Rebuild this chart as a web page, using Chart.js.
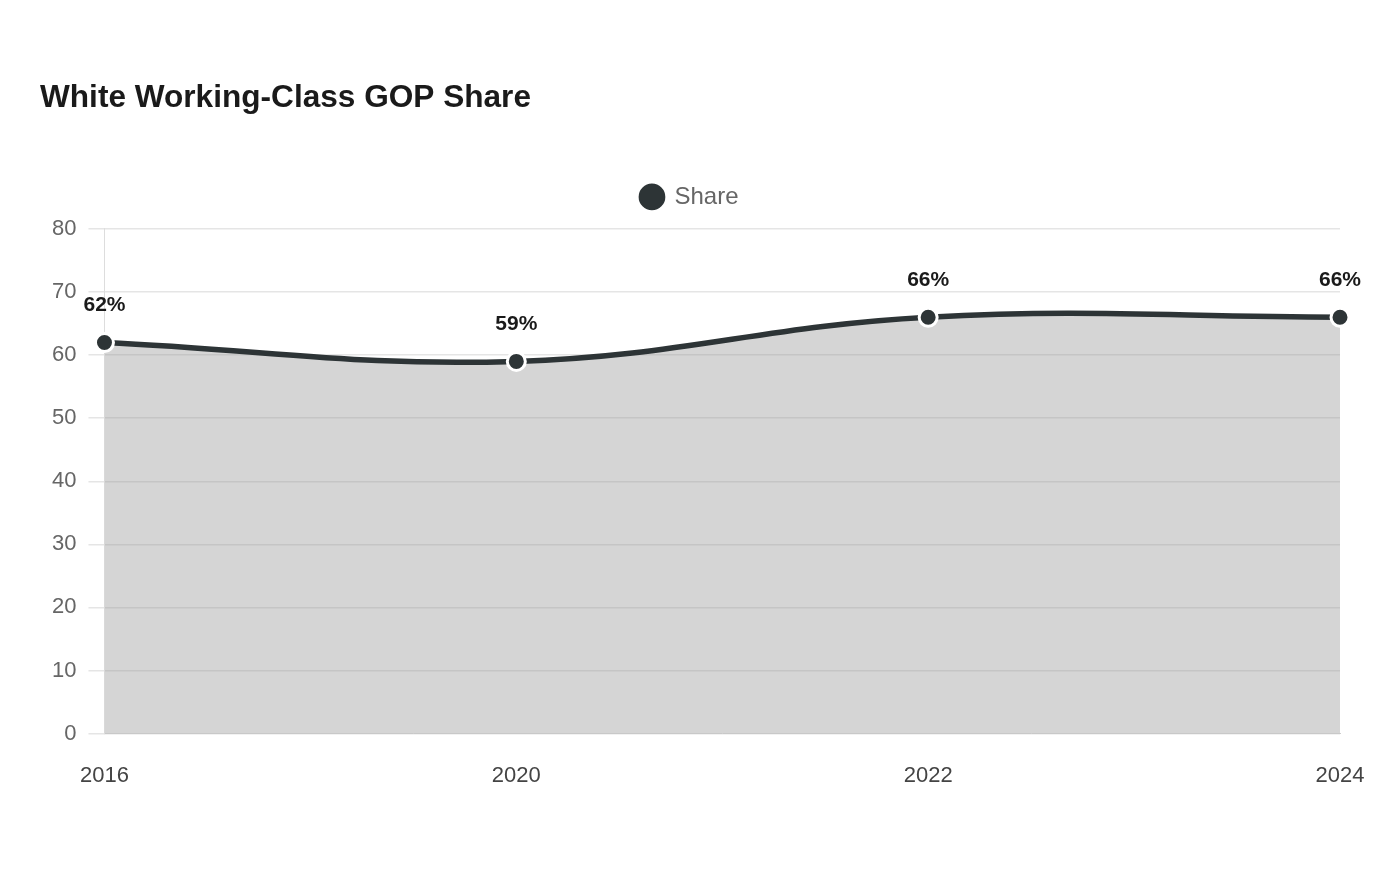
<!DOCTYPE html>
<html>
<head>
<meta charset="utf-8">
<script src="https://cdn.jsdelivr.net/npm/chart.js@4"></script>
<style>
  html, body { margin: 0; padding: 0; background: #ffffff; }
  #wrap { width: 1400px; height: 880px; position: relative; }
</style>
</head>
<body>
<div id="wrap"><canvas id="c" width="1400" height="880"></canvas></div>
<script>
const categories = ['2016', '2020', '2022', '2024'];
const shareValues = [62, 59, 66, 66];
const seriesLabel = 'Share';
const chartTitle = 'White Working-Class GOP Share';
const yTickMin = 0;
const yTickMax = 80;
const yTickStep = 10;

const FONT = "'Liberation Sans', Arial, Helvetica, sans-serif";

const valueLabels = {
  id: 'valueLabels',
  afterDatasetsDraw(chart) {
    const ctx = chart.ctx;
    chart.data.datasets.forEach((ds, i) => {
      const meta = chart.getDatasetMeta(i);
      meta.data.forEach((pt, j) => {
        ctx.save();
        ctx.font = 'bold 21px ' + FONT;
        ctx.fillStyle = '#1a1a1a';
        ctx.textAlign = 'center';
        ctx.textBaseline = 'middle';
        ctx.fillText(ds.data[j] + '%', pt.x, pt.y - 37);
        ctx.restore();
      });
    });
  }
};

const legendSpacing = {
  id: 'legendSpacing',
  beforeInit(chart) {
    const origFit = chart.legend.fit;
    chart.legend.fit = function () {
      origFit.call(this);
      this.height += 10;
    };
  }
};

new Chart(document.getElementById('c'), {
  type: 'line',
  data: {
    labels: categories,
    datasets: [{
      label: seriesLabel,
      data: shareValues,
      borderColor: '#2d3436',
      backgroundColor: 'rgba(150,150,150,0.4)',
      borderWidth: 5.5,
      fill: 'origin',
      tension: 0.4,
      pointRadius: 9,
      pointHoverRadius: 9,
      pointBackgroundColor: '#2d3436',
      pointBorderColor: '#ffffff',
      pointBorderWidth: 3
    }]
  },
  options: {
    responsive: false,
    animation: false,
    layout: { padding: { left: 40, right: 60, top: 60, bottom: 62 } },
    plugins: {
      title: {
        display: true,
        text: chartTitle,
        align: 'start',
        color: '#1a1a1a',
        font: { family: FONT, size: 31.6, weight: 'bold' },
        padding: { top: 19, bottom: 58 }
      },
      legend: {
        display: true,
        labels: {
          usePointStyle: true,
          pointStyle: 'circle',
          boxWidth: 21,
          boxHeight: 21,
          color: '#666666',
          font: { family: FONT, size: 24 },
          padding: 10
        }
      },
      tooltip: { enabled: false }
    },
    scales: {
      x: {
        grid: { display: false, drawTicks: false },
        border: { display: true, color: '#cccccc' },
        ticks: { color: '#444444', font: { family: FONT, size: 22 }, padding: 29, maxRotation: 0 }
      },
      y: {
        min: yTickMin,
        max: yTickMax,
        grid: { color: '#e5e5e5', tickLength: 16, lineWidth: 1.5 },
        border: { display: true, color: '#dddddd' },
        ticks: { stepSize: yTickStep, color: '#666666', font: { family: FONT, size: 22 }, padding: 12 }
      }
    }
  },
  plugins: [valueLabels, legendSpacing]
});
</script>
</body>
</html>
